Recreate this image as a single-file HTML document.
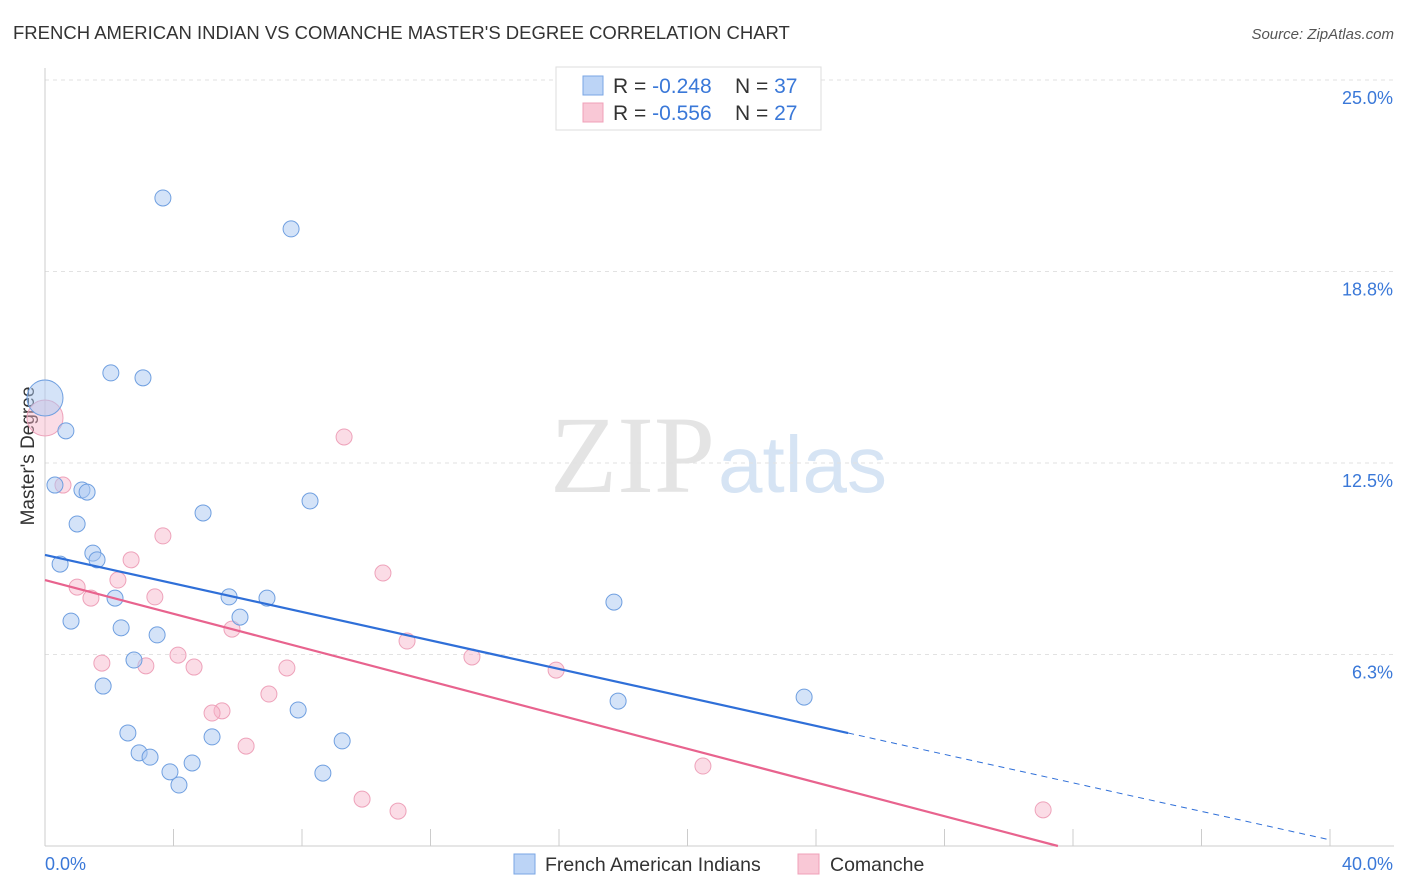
<!DOCTYPE html>
<html><head><meta charset="utf-8">
<style>
body{margin:0;background:#fff;font-family:"Liberation Sans",sans-serif;}
svg{display:block}
</style></head>
<body>
<svg id="chart" width="1406" height="892" xmlns="http://www.w3.org/2000/svg">
<text x="13" y="39" font-size="18.5" fill="#333">FRENCH AMERICAN INDIAN VS COMANCHE MASTER'S DEGREE CORRELATION CHART</text>
<text x="1394" y="39" font-size="15" fill="#555" font-style="italic" text-anchor="end">Source: ZipAtlas.com</text>
<text x="715" y="492" font-size="110" fill="#e4e4e4" font-family="Liberation Serif,serif" text-anchor="end">ZIP</text>
<text x="718" y="492" font-size="80" fill="#d6e4f4">atlas</text>
<text x="34" y="456" font-size="19" fill="#333" text-anchor="middle" transform="rotate(-90 34 456)">Master's Degree</text>
<g id="grid"></g>
<g id="marks"></g>
<g>
<rect x="556" y="67" width="265" height="63" fill="#fff" stroke="#ddd"/>
<rect x="583" y="76" width="20" height="19" fill="#bcd4f6" stroke="#7aa6e4"/>
<rect x="583" y="103" width="20" height="19" fill="#f9c8d6" stroke="#f0a0b8"/>
<text x="613" y="93" font-size="21" fill="#333">R = <tspan fill="#3a78d8">-0.248</tspan></text>
<text x="735" y="93" font-size="21" fill="#333">N = <tspan fill="#3a78d8">37</tspan></text>
<text x="613" y="120" font-size="21" fill="#333">R = <tspan fill="#3a78d8">-0.556</tspan></text>
<text x="735" y="120" font-size="21" fill="#333">N = <tspan fill="#3a78d8">27</tspan></text>
</g>
<g>
<rect x="514" y="854" width="21" height="20" fill="#bcd4f6" stroke="#7aa6e4"/>
<text x="545" y="871" font-size="19.5" fill="#333">French American Indians</text>
<rect x="798" y="854" width="21" height="20" fill="#f9c8d6" stroke="#f0a0b8"/>
<text x="830" y="871" font-size="19.5" fill="#333">Comanche</text>
</g>
</svg>
<script>
const yTicks=[25,18.75,12.5,6.25];
const yTickLabels=["25.0%","18.8%","12.5%","6.3%"];
const xEnds=["0.0%","40.0%"];
const blueX=[3.67,7.66,2.05,3.05,0,0.65,0.31,1.15,1.31,8.25,4.92,1.00,1.49,1.62,0.47,2.18,5.73,6.91,17.71,6.07,0.81,2.37,3.49,2.77,1.81,17.84,23.63,7.88,2.58,5.20,9.25,2.93,3.27,4.58,3.89,8.65,4.17];
const blueY=[21.15,20.14,15.44,15.28,14.62,13.55,11.78,11.62,11.55,11.26,10.87,10.51,9.56,9.34,9.20,8.09,8.13,8.09,7.96,7.47,7.34,7.12,6.89,6.07,5.22,4.73,4.86,4.44,3.69,3.56,3.43,3.04,2.90,2.71,2.42,2.38,1.99];
const pinkX=[0,0.56,9.31,3.67,2.68,10.52,1.00,2.27,1.43,3.42,5.82,11.27,4.14,1.77,3.14,4.64,7.53,13.29,15.91,6.97,5.51,5.20,6.26,20.48,9.87,10.99,31.07];
const pinkY=[13.97,11.78,13.35,10.12,9.34,8.91,8.45,8.68,8.09,8.13,7.08,6.69,6.23,5.97,5.88,5.84,5.81,6.17,5.74,4.96,4.41,4.34,3.26,2.61,1.53,1.14,1.18];
const blueTrend=[9.50,0.2];
const pinkTrend=[8.68,31.53];
const NS="http://www.w3.org/2000/svg";
const X=v=>45+v/40*1285, Y=v=>846-v/6.25*191.5;
function mk(t,a,p){const e=document.createElementNS(NS,t);for(const k in a)e.setAttribute(k,a[k]);p.appendChild(e);return e;}
const g=document.getElementById('grid'), m=document.getElementById('marks');
yTicks.forEach((t,i)=>{
 const l=mk('line',{x1:45,x2:1394,y1:Y(t),y2:Y(t),stroke:'#e2e2e2','stroke-dasharray':'4,4'},g);
 
 
 const tx=mk('text',{x:1393,y:Y(t)+24,'font-size':18,fill:'#3a78d8','text-anchor':'end'},g);
 tx.textContent=yTickLabels[i];
 
 
});
const ax=mk('line',{x1:45,x2:45,y1:68,y2:846,stroke:'#ccc'},g);


const bx=mk('line',{x1:45,x2:1394,y1:846,y2:846,stroke:'#ccc'},g);


for(let i=1;i<=10;i++){const t=mk('line',{x1:X(i*4),x2:X(i*4),y1:829,y2:846,stroke:'#ccc'},g);
 
 }
[[45,'start',0],[1393,'end',1]].forEach(([x,a,i])=>{const t=mk('text',{x:x,y:870,'font-size':18,fill:'#3a78d8','text-anchor':a},g);t.textContent=xEnds[i];
 
 });
function dots(xs,ys,fill,stroke,name){xs.forEach((x,i)=>{const r=x===0?18:8;
 const c=mk('circle',{cx:X(x),cy:Y(ys[i]),r:r,fill:fill,stroke:stroke,'stroke-width':1},m);
 
 });}
dots(pinkX,pinkY,'rgba(246,178,200,0.45)','#eea2ba','comanche-point');
dots(blueX,blueY,'rgba(170,200,242,0.5)','#6f9fe0','french-american-indian-point');
const bs=(blueTrend[1]-blueTrend[0])/40, bxEnd=25;
const b1=mk('line',{x1:X(0),y1:Y(blueTrend[0]),x2:X(bxEnd),y2:Y(blueTrend[0]+bs*bxEnd),stroke:'#2f6fd8','stroke-width':2.2},m);


const b2=mk('line',{x1:X(bxEnd),y1:Y(blueTrend[0]+bs*bxEnd),x2:X(40),y2:Y(blueTrend[1]),stroke:'#2f6fd8','stroke-width':1,'stroke-dasharray':'6,5'},m);


const p1=mk('line',{x1:X(0),y1:Y(pinkTrend[0]),x2:X(pinkTrend[1]),y2:Y(0),stroke:'#e8638e','stroke-width':2.2},m);


</script>
</body></html>
